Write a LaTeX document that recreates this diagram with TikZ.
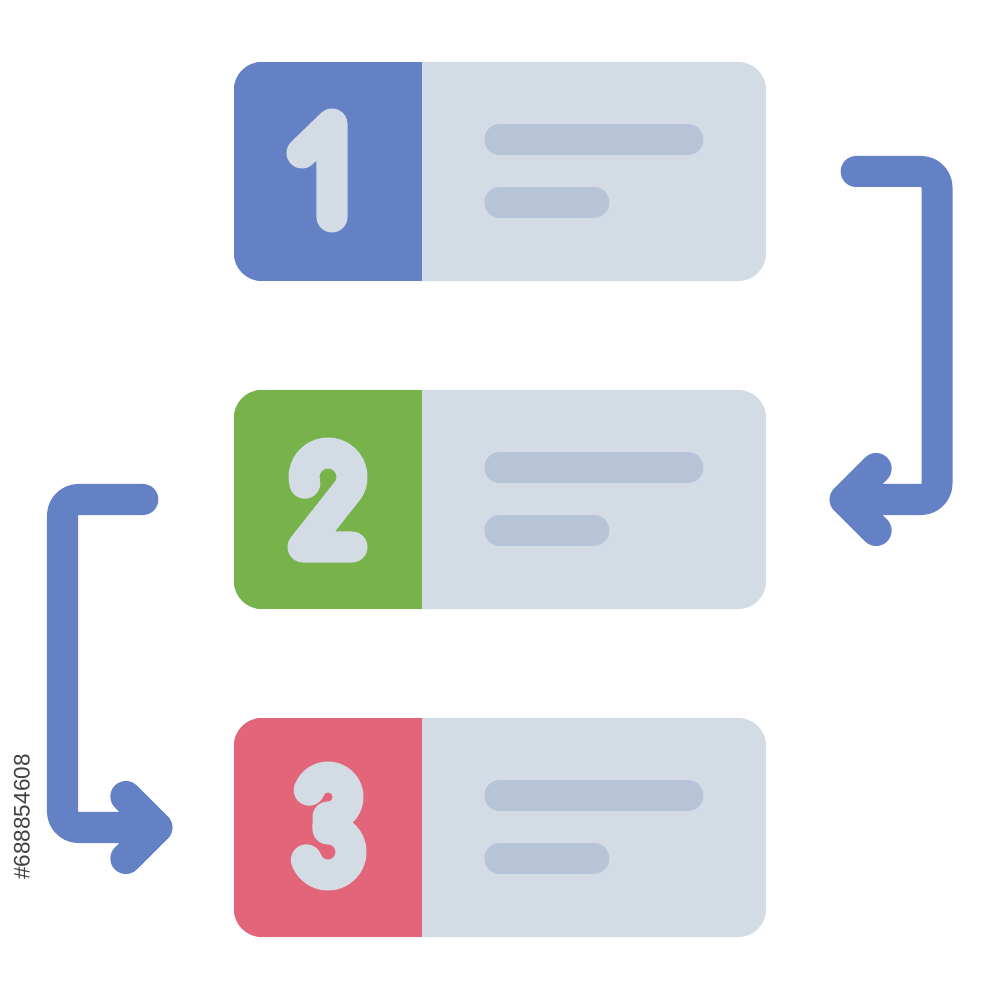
\documentclass[tikz,border=0pt]{standalone}
\usepackage{fontspec}
\setmainfont{Liberation Sans}
\usetikzlibrary{calc}
\definecolor{cblue}{HTML}{6581C6}
\definecolor{cgreen}{HTML}{78B24B}
\definecolor{cred}{HTML}{E26579}
\definecolor{cgrey}{HTML}{D3DCE5}
\definecolor{cline}{HTML}{B7C3D6}
\tikzset{
  cardbox/.style={fill=cgrey, rounded corners=2.8mm, minimum width=53.2mm, minimum height=21.9mm, inner sep=0, outer sep=0},
  txtline/.style={draw=cline, line width=3.1mm, line cap=round},
  digit/.style={draw=cgrey, line width=3.1mm, line cap=round, line join=round},
  flow/.style={draw=cblue, line width=3.1mm, line cap=round, line join=round, rounded corners=1.6mm},
  tiphead/.style={draw=cblue, line width=3.1mm, line cap=round, line join=round}
}
\begin{document}
\begin{tikzpicture}[x=0.01cm,y=0.01cm]
\useasboundingbox (0,0) rectangle (1000,1000);
% cards
\node[cardbox] (card1) at (500,828.5) {};
\node[cardbox] (card2) at (500,500.5) {};
\node[cardbox] (card3) at (500,172.5) {};
\foreach \c/\col in {card1/cblue, card2/cgreen, card3/cred}{
  \begin{scope}
    \clip[rounded corners=2.8mm] (\c.south west) rectangle (\c.north east);
    \fill[\col] (\c.south west) rectangle ($(\c.north west)+(188,0)$);
  \end{scope}
  \draw[txtline] ($(\c.west)+(266,32)$) -- ($(\c.west)+(454,32)$);
  \draw[txtline] ($(\c.west)+(266,-31)$) -- ($(\c.west)+(360,-31)$);
}
% digit 1
\draw[digit] (302,847) -- (332,876) -- (332,783);
% digit 2
\draw[digit] ($(328,523)+(195:24)$) arc[start angle=195, end angle=-30, radius=0.24cm] -- (303,453) -- (352,453);
% digit 3
\draw[digit] ($(328,203)+(160:20)$) arc[start angle=160, end angle=-90, radius=0.2cm] -- (328,171)
  arc[start angle=90, end angle=-160, radius=0.23cm];
% right connector
\coordinate (r1) at ($(card1.east)+(90,0)$);
\coordinate (r2) at ($(card2.east)+(79,0)$);
\draw[flow] (r1) -- (937,828.5) -- (937,500.5) -- (r2);
\draw[tiphead] ($(r2)+(31,31)$) -- (r2) -- ($(r2)+(31,-31)$);
% left connector
\coordinate (l1) at ($(card2.west)+(-91,0)$);
\coordinate (l2) at ($(card3.west)+(-77,0)$);
\draw[flow] (l1) -- (62.5,500.5) -- (62.5,172.5) -- (l2);
\draw[tiphead] ($(l2)+(-31,31)$) -- (l2) -- ($(l2)+(-31,-31)$);
% side id text
\node[rotate=90, font=\fontsize{6.4}{7}\selectfont, text=black!75, inner sep=0] (sid) at (22,183) {\#688854608};
\end{tikzpicture}
\end{document}
